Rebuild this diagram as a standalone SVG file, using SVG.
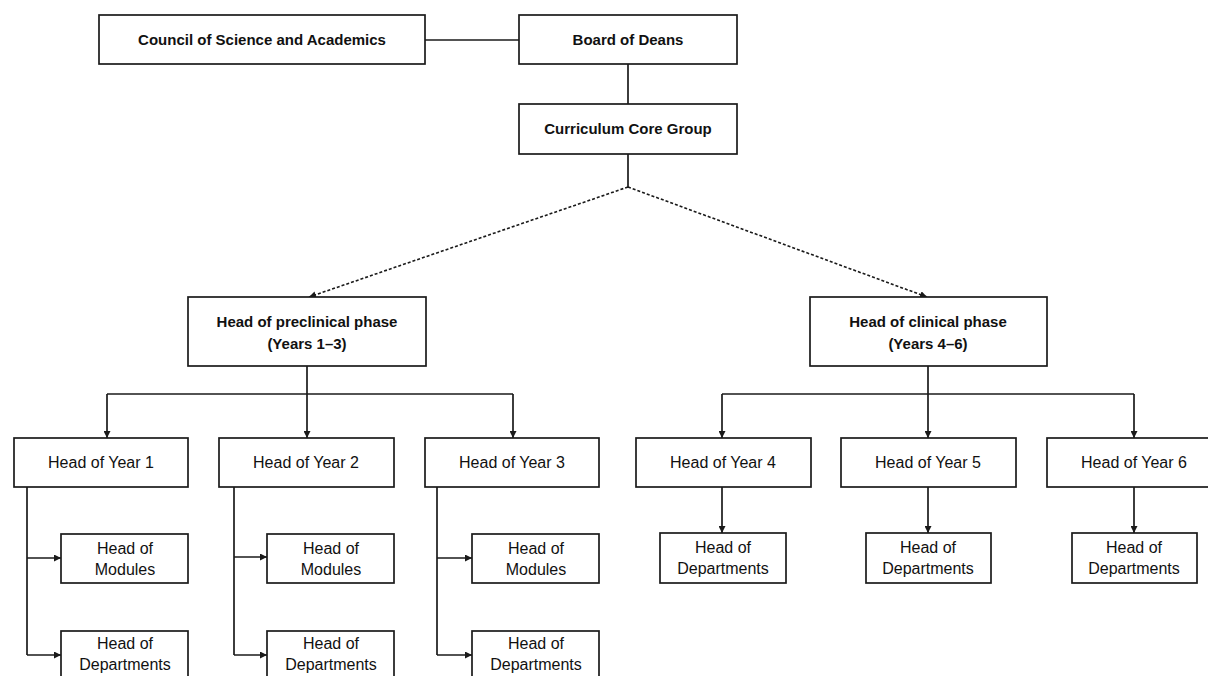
<svg xmlns="http://www.w3.org/2000/svg" width="1208" height="676" viewBox="0 0 1208 676">
<style>
.box{fill:#fff;stroke:#1a1a1a;stroke-width:1.7}
.b{font-family:"Liberation Sans",Arial,sans-serif;font-weight:bold;font-size:15px;fill:#111;text-anchor:middle}
.r{font-family:"Liberation Sans",Arial,sans-serif;font-size:16px;fill:#111;text-anchor:middle}
.ln{fill:none;stroke:#1a1a1a;stroke-width:1.7}
.ar{marker-end:url(#arr)}
.ds{fill:none;stroke:#1a1a1a;stroke-width:1.6;stroke-dasharray:3 2}
</style>
<defs>
<marker id="arr" viewBox="0 0 10 10" refX="10" refY="5" markerWidth="7" markerHeight="7" markerUnits="userSpaceOnUse" orient="auto">
<path d="M0,0 L10,5 L0,10 z" fill="#1a1a1a"/>
</marker>
</defs>
<rect width="1208" height="676" fill="#fff"/>
<g id="connectors">
<line class="ln" x1="425" y1="40" x2="519" y2="40"/>
<line class="ln" x1="628" y1="64" x2="628" y2="104"/>
<line class="ln" x1="628" y1="154" x2="628" y2="187"/>
<line class="ds ar" x1="628" y1="187" x2="309" y2="297"/>
<line class="ds ar" x1="628" y1="187" x2="927" y2="297"/>
<line class="ln" x1="307" y1="366" x2="307" y2="394"/>
<line class="ln" x1="107" y1="394" x2="513" y2="394"/>
<line class="ln ar" x1="107" y1="394" x2="107" y2="438"/>
<line class="ln ar" x1="307" y1="394" x2="307" y2="438"/>
<line class="ln ar" x1="513" y1="394" x2="513" y2="438"/>
<line class="ln" x1="928" y1="366" x2="928" y2="394"/>
<line class="ln" x1="722" y1="394" x2="1134" y2="394"/>
<line class="ln ar" x1="722" y1="394" x2="722" y2="438"/>
<line class="ln ar" x1="928" y1="394" x2="928" y2="438"/>
<line class="ln ar" x1="1134" y1="394" x2="1134" y2="438"/>
<path class="ln" d="M27,487 V655"/>
<line class="ln ar" x1="27" y1="558" x2="61" y2="558"/>
<line class="ln ar" x1="27" y1="655" x2="61" y2="655"/>
<path class="ln" d="M234,487 V655"/>
<line class="ln ar" x1="234" y1="557" x2="267" y2="557"/>
<line class="ln ar" x1="234" y1="655" x2="267" y2="655"/>
<path class="ln" d="M437,487 V655"/>
<line class="ln ar" x1="437" y1="558" x2="472" y2="558"/>
<line class="ln ar" x1="437" y1="655" x2="472" y2="655"/>
<line class="ln ar" x1="722" y1="487" x2="722" y2="533"/>
<line class="ln ar" x1="928" y1="487" x2="928" y2="533"/>
<line class="ln ar" x1="1134" y1="487" x2="1134" y2="533"/>
</g>
<g id="council"><rect class="box" x="99" y="15" width="326" height="49"/><text class="b" x="262" y="45">Council of Science and Academics</text></g>
<g id="board"><rect class="box" x="519" y="15" width="218" height="49"/><text class="b" x="628" y="45">Board of Deans</text></g>
<g id="curriculum"><rect class="box" x="519" y="104" width="218" height="50"/><text class="b" x="628" y="134">Curriculum Core Group</text></g>
<g id="preclinical"><rect class="box" x="188" y="297" width="238" height="69"/><text class="b" x="307" y="327">Head of preclinical phase</text><text class="b" x="307" y="349">(Years 1–3)</text></g>
<g id="clinical"><rect class="box" x="810" y="297" width="237" height="69"/><text class="b" x="928" y="327">Head of clinical phase</text><text class="b" x="928" y="349">(Years 4–6)</text></g>
<g id="year1"><rect class="box" x="14" y="438" width="174" height="49"/><text class="r" x="101" y="468">Head of Year 1</text></g>
<g id="year2"><rect class="box" x="219" y="438" width="175" height="49"/><text class="r" x="306" y="468">Head of Year 2</text></g>
<g id="year3"><rect class="box" x="425" y="438" width="174" height="49"/><text class="r" x="512" y="468">Head of Year 3</text></g>
<g id="year4"><rect class="box" x="636" y="438" width="175" height="49"/><text class="r" x="723" y="468">Head of Year 4</text></g>
<g id="year5"><rect class="box" x="841" y="438" width="175" height="49"/><text class="r" x="928" y="468">Head of Year 5</text></g>
<g id="year6"><rect class="box" x="1047" y="438" width="175" height="49"/><text class="r" x="1134" y="468">Head of Year 6</text></g>
<g id="modules1"><rect class="box" x="61" y="534" width="127" height="49"/><text class="r" x="125" y="554">Head of</text><text class="r" x="125" y="575">Modules</text></g>
<g id="modules2"><rect class="box" x="267" y="534" width="127" height="49"/><text class="r" x="331" y="554">Head of</text><text class="r" x="331" y="575">Modules</text></g>
<g id="modules3"><rect class="box" x="472" y="534" width="127" height="49"/><text class="r" x="536" y="554">Head of</text><text class="r" x="536" y="575">Modules</text></g>
<g id="depts1"><rect class="box" x="61" y="631" width="127" height="49"/><text class="r" x="125" y="649">Head of</text><text class="r" x="125" y="670">Departments</text></g>
<g id="depts2"><rect class="box" x="267" y="631" width="127" height="49"/><text class="r" x="331" y="649">Head of</text><text class="r" x="331" y="670">Departments</text></g>
<g id="depts3"><rect class="box" x="472" y="631" width="127" height="49"/><text class="r" x="536" y="649">Head of</text><text class="r" x="536" y="670">Departments</text></g>
<g id="depts4"><rect class="box" x="660" y="533" width="126" height="50"/><text class="r" x="723" y="553">Head of</text><text class="r" x="723" y="574">Departments</text></g>
<g id="depts5"><rect class="box" x="866" y="533" width="125" height="50"/><text class="r" x="928" y="553">Head of</text><text class="r" x="928" y="574">Departments</text></g>
<g id="depts6"><rect class="box" x="1072" y="533" width="125" height="50"/><text class="r" x="1134" y="553">Head of</text><text class="r" x="1134" y="574">Departments</text></g>
</svg>
